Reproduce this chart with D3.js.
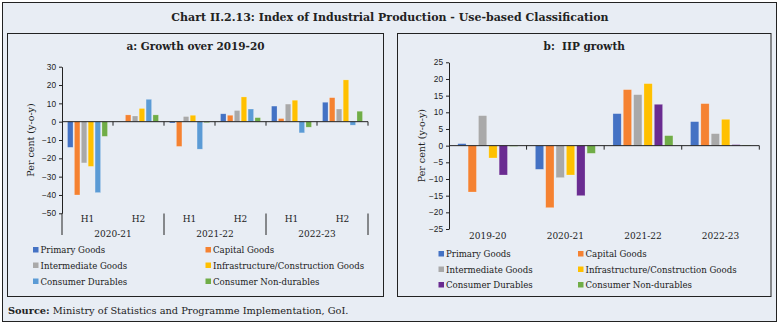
<!DOCTYPE html>
<html>
<head>
<meta charset="utf-8">
<script src="https://cdn.jsdelivr.net/npm/d3@7"></script>
<style>
  html, body { margin: 0; padding: 0; background: #fff; }
  svg { display: block; font-family: 'DejaVu Serif', serif; }
  .tick text { font-size: 8.3px; fill: #222; }
  .axis-label { font-size: 9px; fill: #222; }
  .legend text { font-size: 8.6px; fill: #222; }
</style>
</head>
<body>
<svg id="chart" width="779" height="325"></svg>
<script>
const seriesNames = [
  'Primary Goods', 'Capital Goods', 'Intermediate Goods',
  'Infrastructure/Construction Goods', 'Consumer Durables', 'Consumer Non-durables'
];
const coloursA = ['#4472c4', '#f58231', '#a9a9a9', '#ffc000', '#5b9bd5', '#70ad47'];
const coloursB = ['#4472c4', '#f58231', '#a9a9a9', '#ffc000', '#6a2c91', '#70ad47'];

// panel a: half-yearly growth over 2019-20
const halves = ['H1', 'H2', 'H1', 'H2', 'H1', 'H2'];
const yearsA = ['2020-21', '2021-22', '2022-23'];
const primaryA = [-14, 0, -0.7, 4.3, 8.5, 10.6];
const capitalA = [-40, 3.7, -13.5, 3.5, 1.7, 13.1];
const intermediateA = [-22.5, 3.1, 2.8, 6.1, 9.6, 6.9];
const infraA = [-24.4, 7.2, 3.5, 13.5, 11.7, 22.8];
const durablesA = [-38.7, 12.2, -15, 6.9, -6.1, -1.9];
const nonDurablesA = [-8, 3.7, -0.5, 2.2, -3, 5.7];
const ticksA = [30, 20, 10, 0, -10, -20, -30, -40, -50];

// panel b: annual IIP growth
const yearsB = ['2019-20', '2020-21', '2021-22', '2022-23'];
const primaryB = [0.6, -7.1, 9.6, 7.2];
const capitalB = [-13.9, -18.6, 16.8, 12.6];
const intermediateB = [9.0, -9.6, 15.3, 3.6];
const infraB = [-3.7, -8.8, 18.6, 7.9];
const durablesB = [-8.8, -15.0, 12.4, 0.3];
const nonDurablesB = [-0.2, -2.3, 3.0, 0.2];
const ticksB = [25, 20, 15, 10, 5, 0, -5, -10, -15, -20, -25];

const svg = d3.select('#chart');

svg.append('rect').attr('width', 779).attr('height', 325).attr('fill', '#fff');
svg.append('rect')
  .attr('x', 2.5).attr('y', 2.5).attr('width', 774).attr('height', 319)
  .attr('fill', '#e8edf4').attr('stroke', '#222').attr('stroke-width', 1);

svg.append('text')
  .attr('x', 390).attr('y', 21)
  .attr('text-anchor', 'middle')
  .style('font-size', '11px').style('font-weight', 'bold').attr('fill', '#222')
  .text('Chart II.2.13: Index of Industrial Production - Use-based Classification');

const source = svg.append('text').attr('x', 8).attr('y', 313.5).style('font-size', '9.8px').attr('fill', '#222');
source.append('tspan').style('font-weight', 'bold').text('Source:');
source.append('tspan').text(' Ministry of Statistics and Programme Implementation, GoI.');

function drawPanel(opts) {
  const g = svg.append('g');
  g.append('rect')
    .attr('x', opts.box[0]).attr('y', opts.box[1]).attr('width', opts.box[2]).attr('height', opts.box[3])
    .attr('fill', 'none').attr('stroke', '#222').attr('stroke-width', 1);
  g.append('text')
    .attr('x', opts.box[0] + opts.box[2] / 2).attr('y', 49.5)
    .attr('text-anchor', 'middle')
    .style('font-size', '10.5px').style('font-weight', 'bold').attr('fill', '#222')
    .style('white-space', 'pre')
    .text(opts.title);

  const x0 = d3.scaleBand().domain(d3.range(opts.categories)).range(opts.xRange).paddingInner(0).paddingOuter(0);
  const x1 = d3.scaleBand().domain(d3.range(seriesNames.length)).range([0, x0.bandwidth()])
    .paddingInner(0.2).paddingOuter(opts.outer);
  const y = d3.scaleLinear().domain(opts.yDomain).range(opts.yRange);

  const groups = g.selectAll('.cat')
    .data(d3.range(opts.categories))
    .join('g')
    .attr('class', 'cat')
    .attr('transform', (d) => `translate(${x0(d)},0)`);

  groups.selectAll('rect')
    .data((c) => opts.series.map((arr, s) => ({ s, value: arr[c] })))
    .join('rect')
    .attr('x', (d) => x1(d.s))
    .attr('width', x1.bandwidth())
    .attr('y', (d) => y(Math.max(0, d.value)))
    .attr('height', (d) => Math.abs(y(d.value) - y(0)))
    .attr('fill', (d) => opts.colours[d.s])
    .attr('stroke', 'rgba(255,255,255,0.35)')
    .attr('stroke-width', 0.6);

  const yAxis = d3.axisLeft(y).tickValues(opts.ticks).tickSizeInner(3).tickSizeOuter(0).tickPadding(3);
  const yAxisGroup = g.append('g').attr('transform', `translate(${opts.xRange[0]},0)`).call(yAxis);
  yAxisGroup.select('.domain').attr('stroke', '#222');
  yAxisGroup.selectAll('.tick line').attr('stroke', '#222');

  // zero line with ticks at category boundaries
  const boundaries = opts.tickAt.map((i) => opts.xRange[0] + i * x0.step());
  const zero = y(0);
  g.append('line')
    .attr('x1', opts.xRange[0]).attr('x2', opts.xRange[1])
    .attr('y1', zero).attr('y2', zero)
    .attr('stroke', '#222').attr('stroke-width', 1);
  g.selectAll('.zero-tick')
    .data(boundaries)
    .join('line')
    .attr('class', 'zero-tick')
    .attr('x1', (d) => d).attr('x2', (d) => d)
    .attr('y1', zero).attr('y2', zero + 4)
    .attr('stroke', '#222');

  g.append('text')
    .attr('class', 'axis-label')
    .style('font-size', '9.5px')
    .attr('text-anchor', 'middle')
    .attr('transform', `translate(${opts.yLabelX}, ${(opts.yRange[0] + opts.yRange[1]) / 2}) rotate(-90)`)
    .text('Per cent (y-o-y)');

  const legend = g.append('g').attr('class', 'legend');
  const items = legend.selectAll('g')
    .data(seriesNames)
    .join('g')
    .attr('transform', (d, i) => `translate(${opts.legendX[i % 2]}, ${opts.legendY[Math.floor(i / 2)]})`);
  items.append('rect').attr('x', 0).attr('y', -3).attr('width', 5.5).attr('height', 5.5)
    .attr('fill', (d, i) => opts.colours[i]);
  items.append('text').attr('x', 7.5).attr('y', 3).text((d) => d);

  return { g, x0, y };
}

// panel a
const panelA = drawPanel({
  box: [7.5, 33.5, 376, 263],
  title: 'a: Growth over 2019-20',
  categories: halves.length,
  xRange: [62, 368],
  outer: 0.8,
  yDomain: [-50, 30],
  yRange: [213.3, 66.7],
  ticks: ticksA,
  tickAt: [1, 2, 3, 4, 5, 6],
  series: [primaryA, capitalA, intermediateA, infraA, durablesA, nonDurablesA],
  colours: coloursA,
  yLabelX: 34,
  legendX: [33, 205.5],
  legendY: [250, 265.5, 281.5]
});

panelA.g.selectAll('.half-label')
  .data(halves)
  .join('text')
  .attr('class', 'axis-label half-label')
  .attr('text-anchor', 'middle')
  .attr('x', (d, i) => panelA.x0(i) + panelA.x0.bandwidth() / 2)
  .attr('y', 222)
  .text((d) => d);
panelA.g.selectAll('.year-label')
  .data(yearsA)
  .join('text')
  .attr('class', 'axis-label year-label')
  .attr('text-anchor', 'middle')
  .attr('x', (d, i) => panelA.x0(i * 2 + 1))
  .attr('y', 236.5)
  .text((d) => d);
panelA.g.selectAll('.year-sep')
  .data(d3.range(yearsA.length + 1))
  .join('line')
  .attr('class', 'year-sep')
  .attr('x1', (d) => 62 + d * 2 * panelA.x0.step())
  .attr('x2', (d) => 62 + d * 2 * panelA.x0.step())
  .attr('y1', 213.5).attr('y2', 235)
  .attr('stroke', '#222');

// panel b
const panelB = drawPanel({
  box: [397.5, 33.5, 373.5, 263],
  title: 'b:  IIP growth',
  categories: yearsB.length,
  xRange: [449, 759.3],
  outer: 0.85,
  yDomain: [-25, 25],
  yRange: [229, 62.3],
  ticks: ticksB,
  tickAt: [1, 2, 3, 4],
  series: [primaryB, capitalB, intermediateB, infraB, durablesB, nonDurablesB],
  colours: coloursB,
  yLabelX: 425,
  legendX: [438.5, 578],
  legendY: [254, 269.5, 285]
});

panelB.g.selectAll('.year-label')
  .data(yearsB)
  .join('text')
  .attr('class', 'axis-label year-label')
  .attr('text-anchor', 'middle')
  .attr('x', (d, i) => panelB.x0(i) + panelB.x0.bandwidth() / 2)
  .attr('y', 239)
  .text((d) => d);
</script>
</body>
</html>
